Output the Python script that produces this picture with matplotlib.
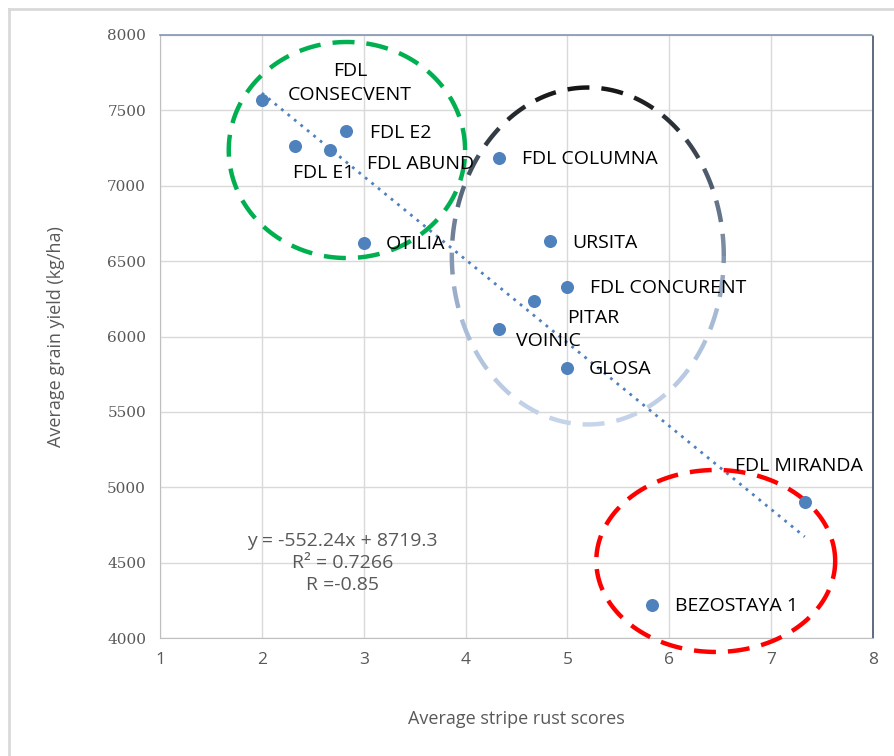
import numpy as np
import matplotlib
matplotlib.use("Agg")
import matplotlib.pyplot as plt
from matplotlib.lines import Line2D
from matplotlib.colors import LinearSegmentedColormap

# data
varieties = ["FDL\nCONSECVENT", "FDL E1", "FDL ABUND", "FDL E2", "OTILIA",
             "FDL COLUMNA", "URSITA", "FDL CONCURENT", "PITAR", "VOINIC",
             "GLOSA", "FDL MIRANDA", "BEZOSTAYA 1"]
rust_scores = [2.0, 2.33, 2.67, 2.83, 3.0, 4.33, 4.83, 5.0, 4.67, 4.33, 5.0, 7.33, 5.83]
grain_yield = [7570, 7265, 7235, 7365, 6620, 7185, 6632, 6330, 6235, 6050, 5790, 4902, 4220]

# linear trend as given in the chart
slope = -552.24
intercept = 8719.3
r_squared = 0.7266
r_value = -0.85

# label offsets in pixels (dx, dy) and alignment
label_offsets = [(88, 17, "center"), (-2, -27, "left"), (37, -14, "left"), (24, -2, "left"),
                 (22, -1, "left"), (23, -1, "left"), (22, -2, "left"), (23, -1, "left"),
                 (33, -17, "left"), (17, -12, "left"), (21, -1, "left"), (-70, 36, "left"),
                 (23, -1, "left")]

GRAY = "#595959"
BLUE = "#4f81bd"
SANS = ["Open Sans", "DejaVu Sans"]

fig = plt.figure(figsize=(8.95, 7.56), dpi=100)
ax = fig.add_axes([160 / 895, 1 - 638 / 756, 713 / 895, 603 / 756])

ax.set_xlim(1, 8)
ax.set_ylim(4000, 8000)
ax.set_xticks(range(1, 9))
ax.set_yticks(range(4000, 8001, 500))
ax.grid(True, color="#d9d9d9", lw=1)
ax.set_axisbelow(True)
ax.tick_params(length=0, pad=10)
for lab in ax.get_xticklabels():
    lab.set_fontfamily(SANS)
    lab.set_fontsize(12.5)
    lab.set_color(GRAY)
for lab in ax.get_yticklabels():
    lab.set_fontfamily("DejaVu Serif")
    lab.set_fontsize(11)
    lab.set_color(GRAY)
ax.tick_params(axis="y", pad=10)

ax.spines["left"].set_color("#bfbfbf")
ax.spines["bottom"].set_color("#bfbfbf")
for s in ("top", "right"):
    ax.spines[s].set_color("#44546a")
    ax.spines[s].set_linestyle((0, (1, 1)))
    ax.spines[s].set_linewidth(1.2)
ax.spines["top"].set_color("#8496b0")

ax.set_xlabel("Average stripe rust scores", fontsize=13, color=GRAY,
              family=SANS, labelpad=30)
ax.set_ylabel("Average grain yield (kg/ha)", fontsize=13, color=GRAY,
              family=SANS, labelpad=30)

# trend line
tx = np.array([min(rust_scores), max(rust_scores)])
ax.plot(tx, slope * tx + intercept, color=BLUE, lw=2, ls=(0, (1, 2)))

# points
ax.scatter(rust_scores, grain_yield, s=70, color=BLUE, zorder=4)
for name, x, y, (dx, dy, ha) in zip(varieties, rust_scores, grain_yield, label_offsets):
    ax.annotate(name, (x, y), xytext=(dx, dy), textcoords="offset pixels",
                ha=ha, va="center", fontsize=14, family=SANS, color="black",
                linespacing=1.45, zorder=5)

ax.text(2.79, 4497,
        "y = %.2fx + %.1f\nR² = %.4f\nR =%.2f" % (slope, intercept, r_squared, r_value),
        ha="center", va="center", fontsize=14, family=SANS, color=GRAY,
        linespacing=1.3)


def dashed_ellipse(cx, cy, w, h, color_fn, dash=22, gap=12, lw=3.2):
    fig.canvas.draw()
    t = np.linspace(0, 2 * np.pi, 3000)
    ex = cx + w / 2 * np.cos(t)
    ey = cy + h / 2 * np.sin(t)
    disp = ax.transData.transform(np.column_stack([ex, ey]))
    seg = np.hypot(np.diff(disp[:, 0]), np.diff(disp[:, 1]))
    s = np.concatenate([[0], np.cumsum(seg)])
    period = dash + gap
    phase = s % period
    on = phase < dash
    idx = np.arange(len(t))
    start = None
    for i in idx:
        if on[i] and start is None:
            start = i
        if (not on[i] or i == idx[-1]) and start is not None:
            sl = slice(start, i + 1)
            frac = (np.mean(ey[sl]) - (cy - h / 2)) / h
            ax.add_line(Line2D(ex[sl], ey[sl], color=color_fn(frac), lw=lw,
                               solid_capstyle="butt", clip_on=False, zorder=3))
            start = None


grad = LinearSegmentedColormap.from_list("g", ["#c6d5ea", "#a5b8d3", "#5d6d82", "#151515"])

dashed_ellipse(2.835, 7237, 2.32, 1433, lambda f: "#00b050")
dashed_ellipse(5.20, 6534, 2.67, 2235, lambda f: grad(f))
dashed_ellipse(6.456, 4511, 2.345, 1207, lambda f: "#ff0000")

# chart area border (partially visible)
fig.add_artist(Line2D([8.5 / 895, 8.5 / 895], [0, 1 - 8.5 / 756], color="#d9d9d9", lw=2))
fig.add_artist(Line2D([8.5 / 895, 1], [1 - 8.5 / 756, 1 - 8.5 / 756], color="#d9d9d9", lw=2))

fig.savefig("out.png", dpi=100)
